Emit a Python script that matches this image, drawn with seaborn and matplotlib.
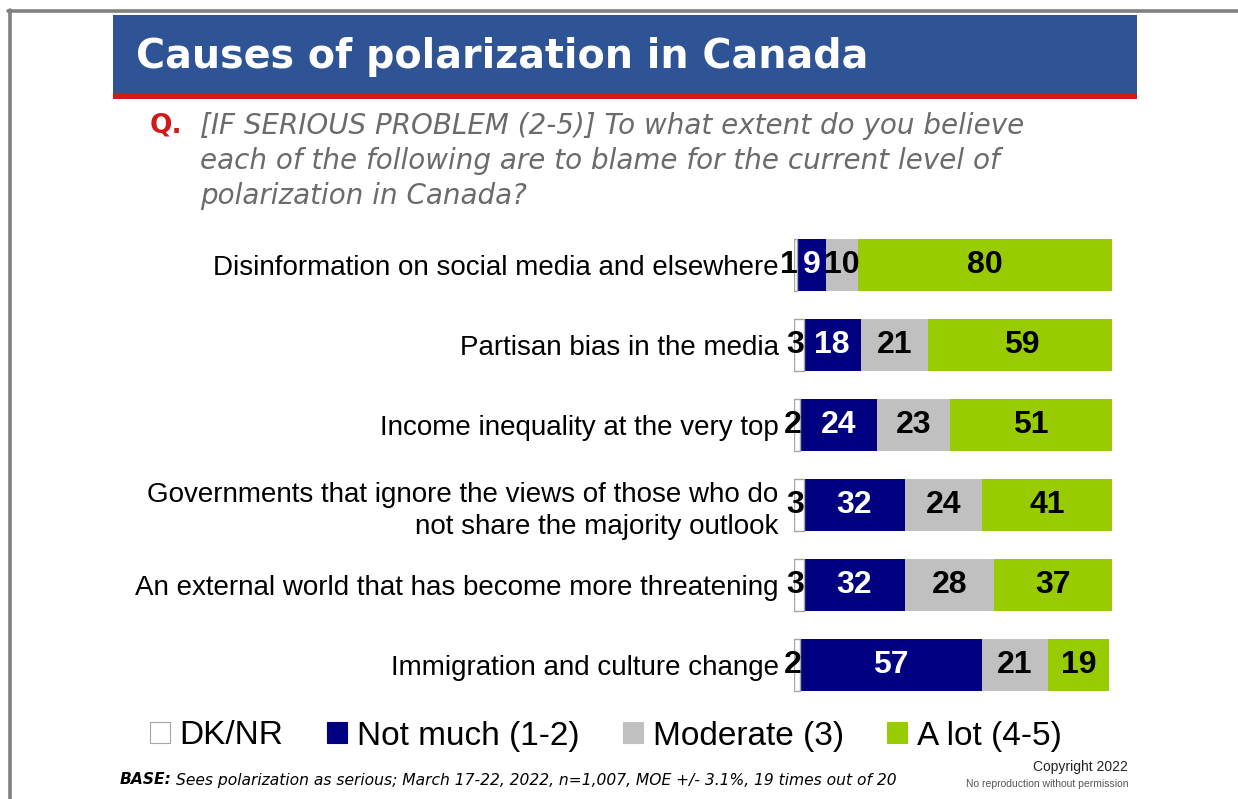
import matplotlib
matplotlib.use("Agg")
import matplotlib.pyplot as plt
from matplotlib.patches import Rectangle, Patch
from matplotlib.lines import Line2D
import seaborn as sns
import pandas as pd
import numpy as np

sns.set_theme(style="white")
plt.rcParams["font.family"] = ["Liberation Sans", "DejaVu Sans"]
plt.rcParams["text.color"] = "black"

# Survey results (%), one entry per cause
categories = [
    "Disinformation on social media and elsewhere",
    "Partisan bias in the media",
    "Income inequality at the very top",
    "Governments that ignore the views of those who do\nnot share the majority outlook",
    "An external world that has become more threatening",
    "Immigration and culture change",
]
dk_nr = [1, 3, 2, 3, 3, 2]
not_much = [9, 18, 24, 32, 32, 57]
moderate = [10, 21, 23, 24, 28, 21]
a_lot = [80, 59, 51, 41, 37, 19]

series_names = ["DK/NR", "Not much (1-2)", "Moderate (3)", "A lot (4-5)"]
series_colors = ["#ffffff", "#000080", "#c0c0c0", "#99cc00"]
label_colors = ["#000000", "#ffffff", "#000000", "#000000"]

W, H = 1238, 799
fig = plt.figure(figsize=(W / 100, H / 100), dpi=100)


def fx(px):
    return px / W


def fy(py):
    return 1 - py / H


# Slide frame
fig.add_artist(Line2D([fx(8), fx(1238)], [fy(11), fy(11)], color="#808080", lw=2.6))
fig.add_artist(Line2D([fx(9.5), fx(9.5)], [fy(10), fy(799)], color="#808080", lw=2.6))

# Title banner
fig.add_artist(Rectangle((fx(113), fy(94)), fx(1137) - fx(113), fy(15) - fy(94),
                         transform=fig.transFigure, facecolor="#2f5496", edgecolor="none"))
fig.add_artist(Rectangle((fx(113), fy(99)), fx(1137) - fx(113), fy(94) - fy(99),
                         transform=fig.transFigure, facecolor="#d0191b", edgecolor="none"))
fig.text(fx(136), fy(57), "Causes of polarization in Canada", color="white",
         fontsize=28.5, fontweight="bold", family=["DejaVu Sans"], va="center", ha="left")

# Question text
fig.text(fx(150), fy(126), "Q.", color="#d0191b", fontsize=19, fontweight="bold",
         family=["DejaVu Sans"], va="center", ha="left")
q_lines = [
    "[IF SERIOUS PROBLEM (2-5)] To what extent do you believe",
    "each of the following are to blame for the current level of",
    "polarization in Canada?",
]
for i, line in enumerate(q_lines):
    fig.text(fx(200), fy(126 + 35 * i), line, color="#6b6b6b", fontsize=20,
             style="italic", family=["DejaVu Sans"], va="center", ha="left")

# Stacked bars
ax = fig.add_axes([fx(794), fy(705), fx(1112) - fx(794), fy(225) - fy(705)])
values = np.array([dk_nr, not_much, moderate, a_lot], dtype=float)
cum = values.cumsum(axis=0)

df = pd.DataFrame({"category": categories})
for k in range(3, -1, -1):
    df["cum"] = cum[k]
    sns.barplot(data=df, x="cum", y="category", orient="h", color=series_colors[k],
                width=0.65, ax=ax, saturation=1,
                edgecolor="#a6a6a6" if k == 0 else "none",
                linewidth=1.0 if k == 0 else 0)

for i in range(len(categories)):
    for k in range(4):
        v = values[k, i]
        end = cum[k, i]
        start = end - v
        if k == 0:
            ax.text(end + 0.3, i, f"{int(v)}", ha="right", va="center",
                    fontsize=23, fontweight="bold", color=label_colors[k])
        else:
            ax.text(start + v / 2, i, f"{int(v)}", ha="center", va="center",
                    fontsize=23, fontweight="bold", color=label_colors[k])

ax.set_xlim(0, 100)
ax.set_ylim(5.5, -0.5)
ax.set_xlabel("")
ax.set_ylabel("")
ax.set_xticks([])
ax.tick_params(axis="y", length=0, pad=11, labelsize=20, labelcolor="black")
for lab in ax.get_yticklabels():
    lab.set_linespacing(1.32)
    lab.set_multialignment("right")
for s in ax.spines.values():
    s.set_visible(False)
ax.set_facecolor("none")

# Legend
handles = [Patch(facecolor=c, edgecolor="#a6a6a6" if c == "#ffffff" else c, linewidth=0.8)
           for c in series_colors]
fig.legend(handles, series_names, loc="center", bbox_to_anchor=(fx(606), fy(736)),
           ncol=4, frameon=False, fontsize=24, handlelength=0.6, handleheight=0.6,
           handletextpad=0.3, columnspacing=1.3, borderpad=0, borderaxespad=0,
           labelcolor="black")

# Footer
t1 = fig.text(fx(120), fy(780), "BASE:", fontsize=11.2, fontweight="bold", style="italic",
              family=["DejaVu Sans"], va="center", ha="left", color="black")
fig.canvas.draw()
bb = t1.get_window_extent()
fig.text(bb.x1 / W + fx(4), fy(780),
         "Sees polarization as serious; March 17-22, 2022, n=1,007, MOE +/- 3.1%, 19 times out of 20",
         fontsize=11.2, style="italic", family=["DejaVu Sans"], va="center", ha="left", color="black")
fig.text(fx(1128), fy(767), "Copyright 2022", fontsize=10, va="center", ha="right", color="#222222")
fig.text(fx(1128), fy(784), "No reproduction without permission", fontsize=7.5,
         va="center", ha="right", color="#555555")

fig.savefig("out.png", dpi=100)
